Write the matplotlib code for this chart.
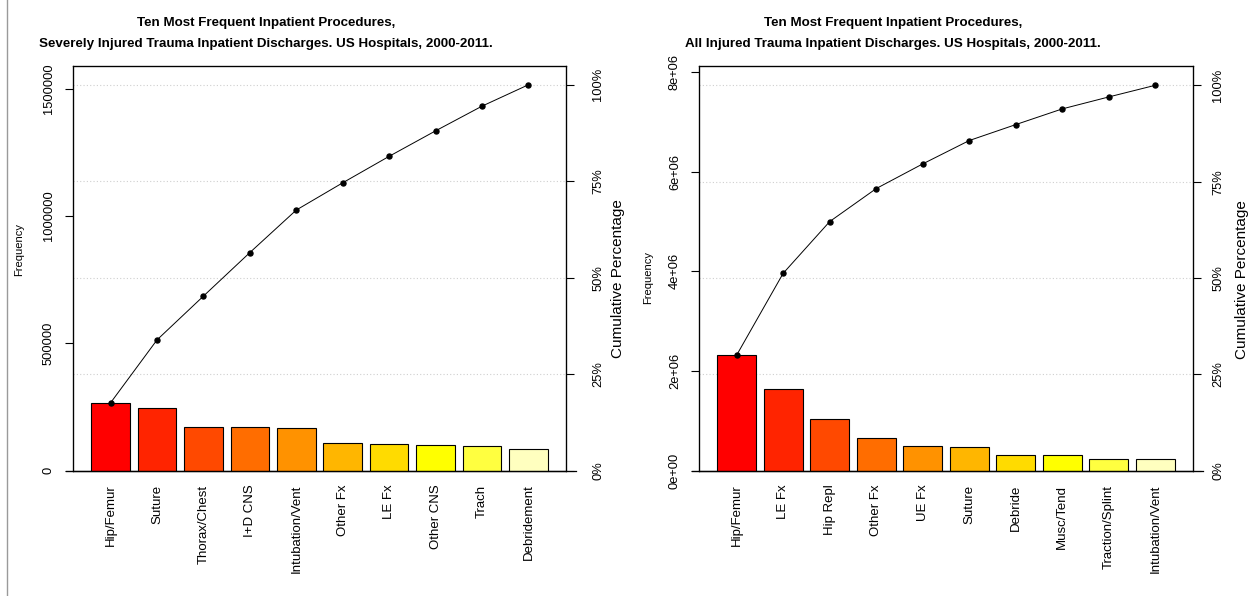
import matplotlib
matplotlib.use("Agg")
import matplotlib.pyplot as plt
from matplotlib.lines import Line2D
import numpy as np

plt.rcParams['font.family'] = ['Liberation Sans', 'DejaVu Sans']

# ---------------- data ----------------
severe_categories = ["Hip/Femur", "Suture", "Thorax/Chest", "I+D CNS", "Intubation/Vent",
                     "Other Fx", "LE Fx", "Other CNS", "Trach", "Debridement"]
severe_values = [266000, 247000, 172000, 171000, 167000, 107000, 104000, 100000, 97000, 84000]

all_categories = ["Hip/Femur", "LE Fx", "Hip Repl", "Other Fx", "UE Fx", "Suture",
                  "Debride", "Musc/Tend", "Traction/Splint", "Intubation/Vent"]
all_values = [2320000, 1642000, 1038000, 662000, 495000, 469000, 320000, 315000, 240000, 234000]

severe_yticks = [0, 500000, 1000000, 1500000]
severe_yticklabels = ["0", "500000", "1000000", "1500000"]
all_yticks = [0, 2e6, 4e6, 6e6, 8e6]
all_yticklabels = ["0e+00", "2e+06", "4e+06", "6e+06", "8e+06"]
pct_ticks = [0, 0.25, 0.5, 0.75, 1.0]
pct_labels = ["0%", "25%", "50%", "75%", "100%"]

title_line1 = "Ten Most Frequent Inpatient Procedures,"
severe_title2 = "Severely Injured Trauma Inpatient Discharges. US Hospitals, 2000-2011."
all_title2 = "All Injured Trauma Inpatient Discharges. US Hospitals, 2000-2011."

heat_colors = ["#FF0000", "#FF2400", "#FF4900", "#FF6D00", "#FF9200",
               "#FFB600", "#FFDB00", "#FFFF00", "#FFFF40", "#FFFFBF"]

W, H = 1258, 596
fig = plt.figure(figsize=(W / 100, H / 100), dpi=100)


def px_axes(x0, y0, x1, y1):
    return fig.add_axes([x0 / W, 1 - y1 / H, (x1 - x0) / W, (y1 - y0) / H])


def pareto(ax, cats, vals, yticks, yticklabels, left_pad, right_pad,
           ylab_xy, cum_xy):
    vals = np.asarray(vals, dtype=float)
    n = len(vals)
    total = vals.sum()
    cum = np.cumsum(vals)
    pos = 0.7 + 1.2 * np.arange(n)
    ax.bar(pos, vals, width=1.0, color=heat_colors[:n], edgecolor="black",
           linewidth=0.8, zorder=3)
    ax.set_xlim(-0.272, 12.472)
    ax.set_ylim(0, total * 1.05)
    # grid
    for p in pct_ticks[1:]:
        ax.axhline(total * p, color="#cfcfcf", linestyle=(0, (1, 2)), linewidth=0.8, zorder=1)
    # cumulative line
    ax.plot(pos, cum, color="black", linewidth=0.7, zorder=4)
    ax.plot(pos, cum, "o", color="black", markersize=3.6, zorder=5)
    ax.set_xticks(pos)
    ax.set_xticklabels(cats, rotation=90, fontsize=9.5, va="top")
    ax.tick_params(axis="x", length=0, pad=10)
    ax.set_yticks(yticks)
    ax.set_yticklabels(yticklabels, rotation=90, va="center", fontsize=9.3)
    ax.tick_params(axis="y", length=6, width=0.8, pad=left_pad, colors="black")
    for s in ax.spines.values():
        s.set_linewidth(0.9)
    # extended baseline
    ax.plot([-0.015, 1.02], [0, 0], transform=ax.transAxes, color="black",
            linewidth=0.9, clip_on=False, zorder=6)
    fig.text(ylab_xy[0] / W, 1 - ylab_xy[1] / H, "Frequency", rotation=90,
             ha="center", va="center", fontsize=8)
    # right axis
    ax2 = ax.twinx()
    ax2.set_ylim(ax.get_ylim())
    ax2.set_yticks([total * p for p in pct_ticks])
    ax2.set_yticklabels(pct_labels, rotation=90, va="center", fontsize=9.3)
    ax2.tick_params(axis="y", length=6, width=0.8, pad=right_pad)
    fig.text(cum_xy[0] / W, 1 - cum_xy[1] / H, "Cumulative Percentage", rotation=90,
             ha="center", va="center", fontsize=11)
    return ax2


axL = px_axes(73, 65.5, 566, 470.5)
pareto(axL, severe_categories, severe_values, severe_yticks, severe_yticklabels,
       left_pad=7, right_pad=13, ylab_xy=(19, 249), cum_xy=(618, 279))

axR = px_axes(699, 66, 1193, 470.7)
pareto(axR, all_categories, all_values, all_yticks, all_yticklabels,
       left_pad=7, right_pad=8, ylab_xy=(648, 278), cum_xy=(1242, 280))

# titles
for cx, t2 in [(266, severe_title2), (893, all_title2)]:
    fig.text(cx / W, 1 - 23 / H, title_line1, ha="center", va="center",
             fontsize=9.6, fontweight="bold")
    fig.text(cx / W, 1 - 44 / H, t2, ha="center", va="center",
             fontsize=9.6, fontweight="bold")

# faint scan edge line at far left
fig.add_artist(Line2D([7 / W, 7 / W], [0, 1], color="#9a9a9a", linewidth=1.0))

fig.savefig("out.png", dpi=100, facecolor="white")
